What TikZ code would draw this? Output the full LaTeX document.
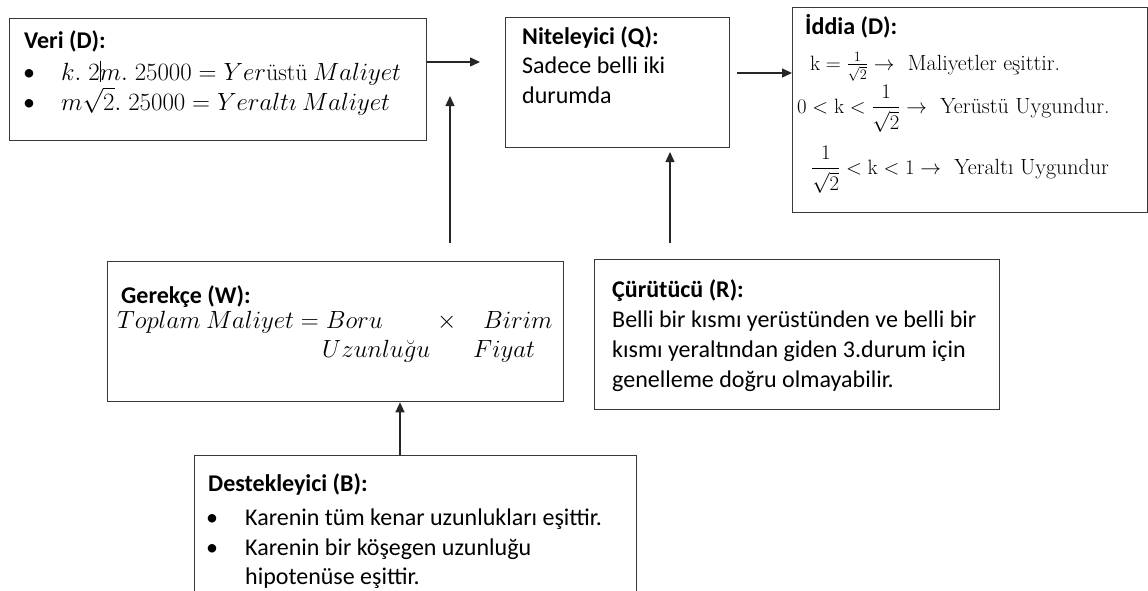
\documentclass[tikz,border=0pt]{standalone}
\usepackage{amsmath}
\usepackage[no-math]{fontspec}
\setmainfont{Carlito}
\newfontfamily\serifface{Latin Modern Roman}
\usetikzlibrary{arrows.meta}
\newcommand\bodysize{\fontsize{24}{29.5}\selectfont}
\newcommand\mathsize{\fontsize{24}{30}\selectfont}
\newcommand\claimsize{\fontsize{22}{26}\selectfont}
\begin{document}
\begin{tikzpicture}[x=1pt,y=-1pt,
  frame/.style={draw=black!78, line width=1.3pt, anchor=north west, inner sep=0pt},
  body/.style={anchor=base west, inner sep=0pt, font=\bodysize},
  dot/.style={anchor=base, inner sep=0pt, font=\bodysize},
  link/.style={draw=black!85, line width=1.3pt, -{Triangle[length=10pt,width=9pt]}},
  ]
\useasboundingbox (0,0) rectangle (1148,590);
\begin{scope}
\clip (0,0) rectangle (1148,590);

% boxes
\node[frame, minimum width=417pt, minimum height=122pt] (veri) at (9,18) {};
\node[frame, minimum width=224pt, minimum height=130pt] (nit) at (505,17) {};
\node[frame, minimum width=355pt, minimum height=205pt] (iddia) at (792,7) {};
\node[frame, minimum width=456pt, minimum height=140pt] (ger) at (107,261) {};
\node[frame, minimum width=405pt, minimum height=150pt] (cur) at (594,259) {};
\node[frame, minimum width=442pt, minimum height=160pt] (des) at (194,455) {};

% Veri (D)
\node[body] (veriH) at (24,48) {\bfseries Veri (D):};
\node[dot] (veriB1) at (29,80) {\textbullet};
\node[dot] (veriB2) at (29,110) {\textbullet};
\node[body, font=\mathsize] (veri1) at (61,80)
  {$k.\;2m.\;25000 = Yer${\serifface üstü}$\ Maliyet$};
\node[body, font=\mathsize] (veri2) at (61,110)
  {$m\sqrt{2}.\;25000 = Yeralt\imath\ Maliyet$};
\draw[line width=0.9pt] (100,61) -- (100,82);

% Niteleyici (Q)
\node[body] (nitT) at (522,44) {\parbox[t]{200pt}{\bodysize
  \textbf{Niteleyici (Q):}\\Sadece belli iki\\durumda}};

% İddia (D)
\node[body] (iddiaH) at (805,34) {\bfseries İddia (D):};
\node[body, font=\claimsize\serifface] (iddia1) at (810,70)
  {$\mathrm{k} = \tfrac{1}{\sqrt{2}} \rightarrow$ \ Maliyetler eşittir.};
\node[body, font=\claimsize\serifface] (iddia2) at (797,113)
  {$0 < \mathrm{k} < \dfrac{1}{\sqrt{2}} \rightarrow$ \ Yerüstü Uygundur.};
\node[body, font=\claimsize\serifface] (iddia3) at (811,174)
  {$\dfrac{1}{\sqrt{2}} < \mathrm{k} < 1 \rightarrow$ \ Yeraltı Uygundur};

% Gerekçe (W)
\node[body] (gerH) at (121,303) {\bfseries Gerekçe (W):};
\node[body, font=\mathsize] (ger1) at (117,328) {$Toplam\ Maliyet = Boru$};
\node[body, font=\mathsize] (gerX) at (437,328) {$\times$};
\node[body, font=\mathsize] (ger2) at (483,328) {$Birim$};
\node[body, font=\mathsize] (ger3) at (322,357) {$Uzunlu\breve{g}u$};
\node[body, font=\mathsize] (ger4) at (473,357) {$Fiyat$};

% Çürütücü (R)
\node[body] (curT) at (612,297) {\parbox[t]{380pt}{\fontsize{24}{30}\selectfont
  \textbf{Çürütücü (R):}\\Belli bir kısmı yerüstünden ve belli bir\\
  kısmı yeraltından giden 3.durum için\\genelleme doğru olmayabilir.}};

% Destekleyici (B)
\node[body] (desH) at (208,491) {\bfseries Destekleyici (B):};
\node[dot] (desB1) at (212,525) {\textbullet};
\node[dot] (desB2) at (212,555) {\textbullet};
\node[body] (des1) at (245,525) {Karenin tüm kenar uzunlukları eşittir.};
\node[body] (des2) at (245,555) {\parbox[t]{380pt}{\fontsize{24}{29}\selectfont
  Karenin bir köşegen uzunluğu\\hipotenüse eşittir.}};
\end{scope}

% connectors
\coordinate (vEnd) at (480,62);
\draw[link] (veri.east |- vEnd) -- (vEnd);
\coordinate (nStart) at (737,73);
\draw[link] (nStart) -- (nStart -| iddia.west);
\coordinate (wBase) at (450,243);
\coordinate (wTip) at (450,96);
\draw[link] (wBase) -- (wTip);
\coordinate (rBase) at (670,243);
\coordinate (rTip) at (670,152);
\draw[link] (rBase) -- (rTip);
\coordinate (bBase) at (400,455);
\draw[link] (bBase) -- (bBase |- ger.south);
\end{tikzpicture}
\end{document}
